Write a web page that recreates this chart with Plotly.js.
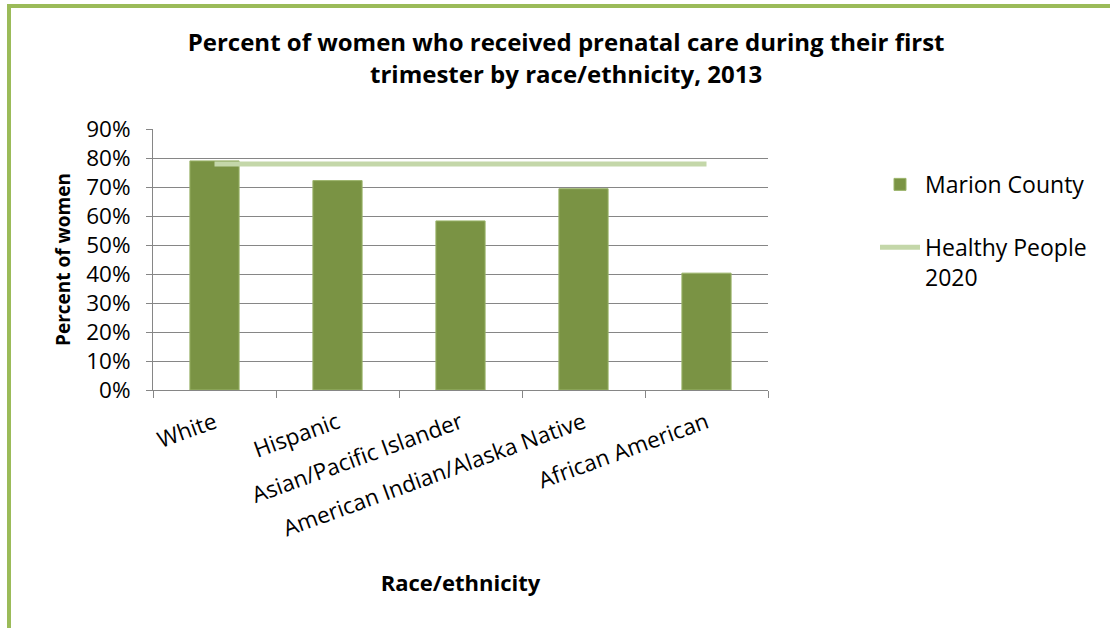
<!DOCTYPE html>
<html>
<head>
<meta charset="utf-8">
<script src="https://cdn.plot.ly/plotly-3.0.1.min.js"></script>
<style>
  html, body { margin: 0; padding: 0; background: #fff; }
  #wrap { position: relative; width: 1110px; height: 628px; overflow: hidden; }
  #chart { position: absolute; left: 0; top: 0; width: 1110px; height: 628px; }
  #frame { position: absolute; left: 7px; top: 4px; width: 1200px; height: 700px;
           border-top: 4px solid #9BBB59; border-left: 4px solid #9BBB59; pointer-events: none; }
</style>
</head>
<body>
<div id="wrap">
  <div id="chart"></div>
  <div id="frame"></div>
</div>
<script>
const categories = ["White", "Hispanic", "Asian/Pacific Islander", "American Indian/Alaska Native", "African American"];
const marionCounty = [79.0, 72.2, 58.3, 69.4, 40.3];
const healthyPeople2020 = [77.9, 77.9, 77.9, 77.9, 77.9];
const seriesNames = ["Marion County", "Healthy People<br>2020"];
const yTickVals = [0, 10, 20, 30, 40, 50, 60, 70, 80, 90];
const yTickText = ["0%", "10%", "20%", "30%", "40%", "50%", "60%", "70%", "80%", "90%"];

const FONT = "'Open Sans', Lato, sans-serif";
const AXIS_GREY = "#868686";

const traces = [
  {
    type: "bar",
    name: seriesNames[0],
    legendgroup: "g1",
    x: categories,
    y: marionCounty,
    marker: { color: "#7A9344", line: { color: "#9BB46A", width: 1 } },
    hoverinfo: "x+y"
  },
  {
    type: "scatter",
    mode: "lines",
    name: seriesNames[1],
    legendgroup: "g2",
    x: categories,
    y: healthyPeople2020,
    line: { color: "#C4D7A9", width: 5 }
  }
];

const layout = {
  width: 1110,
  height: 628,
  paper_bgcolor: "#ffffff",
  plot_bgcolor: "#ffffff",
  font: { family: FONT, color: "#000000", size: 22 },
  margin: { l: 153, r: 342, t: 129, b: 238 },
  bargap: 0.6,
  title: {
    text: "<b>Percent of women who received prenatal care during their first<br>trimester by race/ethnicity, 2013</b>",
    font: { family: FONT, size: 24, color: "#000000" },
    x: 0.51, xanchor: "center", y: 0.918, yanchor: "top"
  },
  xaxis: {
    type: "category",
    tickangle: -20,
    tickfont: { family: FONT, size: 22.5 },
    ticklabelstandoff: 10,
    showline: true, linecolor: AXIS_GREY, linewidth: 1,
    ticks: "outside", tickson: "boundaries", ticklen: 7, tickcolor: AXIS_GREY,
    showgrid: false,
    title: { text: "<b>Race/ethnicity</b>", font: { family: FONT, size: 22 }, standoff: 33 }
  },
  yaxis: {
    range: [0, 90],
    tickvals: yTickVals,
    ticktext: yTickText,
    tickfont: { family: FONT, size: 22.5 },
    ticklabelstandoff: 11,
    showline: true, linecolor: AXIS_GREY, linewidth: 1,
    ticks: "outside", ticklen: 6, tickcolor: AXIS_GREY,
    showgrid: true, gridcolor: AXIS_GREY, gridwidth: 1,
    zeroline: false,
    title: { text: "\u00a0\u00a0\u00a0\u00a0\u00a0\u00a0\u00a0<b>Percent of women</b>", font: { family: FONT, size: 19 }, standoff: 10 }
  },
  legend: {
    x: 1.174, xanchor: "left", y: 0.87, yanchor: "top",
    font: { family: FONT, size: 23 },
    traceorder: "grouped",
    tracegroupgap: 30,
    valign: "top",
    itemwidth: 40
  },
  showlegend: true
};

Plotly.newPlot("chart", traces, layout, { displayModeBar: false, staticPlot: true });
</script>
</body>
</html>
